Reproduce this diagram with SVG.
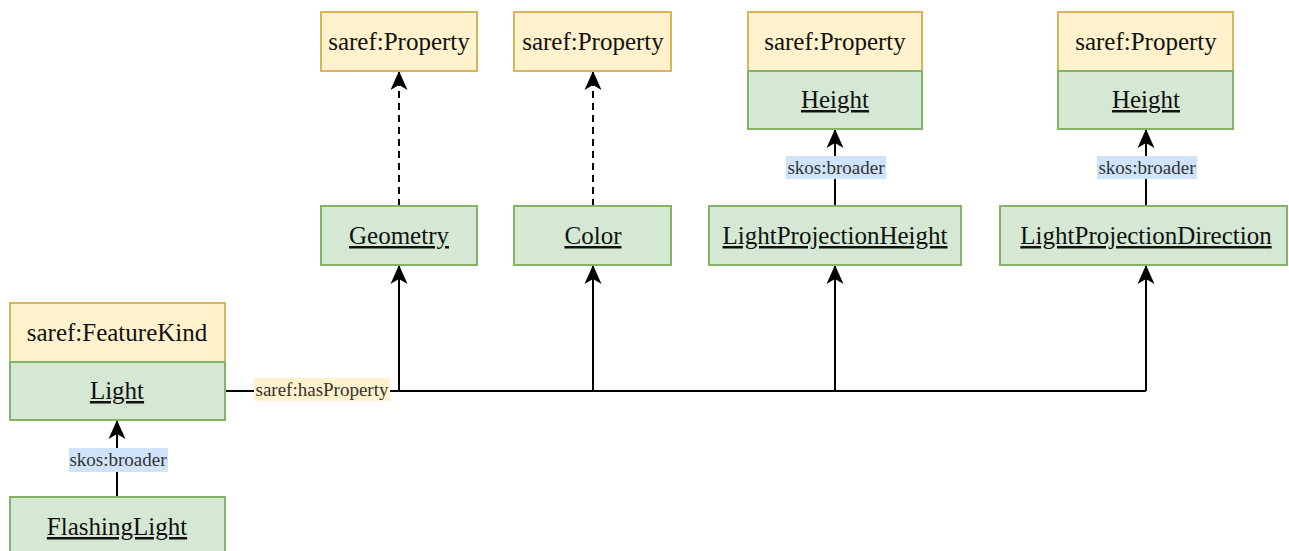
<svg xmlns="http://www.w3.org/2000/svg" width="1289" height="551" viewBox="0 0 1289 551">
  <style>
    .kind { fill: #fff2cc; stroke: #d6b656; stroke-width: 2; }
    .inst { fill: #d5e8d4; stroke: #82b366; stroke-width: 2; }
    .t { font-family: "Liberation Serif", "Times New Roman", serif; font-size: 25px; fill: #111; text-anchor: middle; }
    .u { text-decoration: underline; }
    .edge { fill: none; stroke: #000; stroke-width: 2; }
    .dash { stroke-dasharray: 7 5; }
    .lbl { font-family: "Liberation Serif", "Times New Roman", serif; font-size: 19px; fill: #333; text-anchor: middle; }
    .bgBlue { fill: #cfe4fb; }
    .bgYellow { fill: #fff2cc; }
  </style>
  <defs>
    <marker id="arrow" markerUnits="userSpaceOnUse" markerWidth="19" markerHeight="18" viewBox="0 0 19 18" refX="18" refY="9" orient="auto">
      <path d="M0,0.5 L19,9 L0,17.5 L5,9 Z" fill="#000"/>
    </marker>
  </defs>
  <rect width="1289" height="551" fill="#fff"/>

  <!-- connectors -->
  <g id="connectors">
    <!-- hasProperty trunk and branches -->
    <path class="edge" d="M225,391 H254"/>
    <path class="edge" d="M390,391 H1146"/>
    <path class="edge" d="M399,391 V266" marker-end="url(#arrow)"/>
    <path class="edge" d="M593,391 V266" marker-end="url(#arrow)"/>
    <path class="edge" d="M835,391 V266" marker-end="url(#arrow)"/>
    <path class="edge" d="M1146,391 V266" marker-end="url(#arrow)"/>
    <rect class="bgYellow" x="254" y="378" width="136" height="23"/>
    <text class="lbl" x="322" y="396">saref:hasProperty</text>

    <!-- type links -->
    <path class="edge dash" d="M399,206 V72" marker-end="url(#arrow)"/>
    <path class="edge dash" d="M593,206 V72" marker-end="url(#arrow)"/>

    <!-- skos:broader links -->
    <path class="edge" d="M835,206 V130" marker-end="url(#arrow)"/>
    <rect class="bgBlue" x="786" y="156" width="100" height="23"/>
    <text class="lbl" x="836" y="174">skos:broader</text>

    <path class="edge" d="M1146,206 V130" marker-end="url(#arrow)"/>
    <rect class="bgBlue" x="1097" y="156" width="100" height="23"/>
    <text class="lbl" x="1147" y="174">skos:broader</text>

    <path class="edge" d="M117,497 V421" marker-end="url(#arrow)"/>
    <rect class="bgBlue" x="69" y="448" width="99" height="24"/>
    <text class="lbl" x="118" y="466">skos:broader</text>
  </g>

  <!-- nodes -->
  <g id="prop-geometry">
    <rect class="kind" x="321" y="12" width="156" height="59"/>
    <text class="t" x="399" y="50">saref:Property</text>
  </g>
  <g id="prop-color">
    <rect class="kind" x="514" y="12" width="157" height="59"/>
    <text class="t" x="593" y="50">saref:Property</text>
  </g>
  <g id="height-1">
    <rect class="kind" x="748" y="12" width="174" height="59"/>
    <text class="t" x="835" y="50">saref:Property</text>
    <rect class="inst" x="748" y="71" width="174" height="58"/>
    <text class="t u" x="835" y="108">Height</text>
  </g>
  <g id="height-2">
    <rect class="kind" x="1058" y="12" width="175" height="59"/>
    <text class="t" x="1146" y="50">saref:Property</text>
    <rect class="inst" x="1058" y="71" width="175" height="58"/>
    <text class="t u" x="1146" y="108">Height</text>
  </g>
  <g id="geometry">
    <rect class="inst" x="321" y="206" width="156" height="59"/>
    <text class="t u" x="399" y="244">Geometry</text>
  </g>
  <g id="color">
    <rect class="inst" x="514" y="206" width="157" height="59"/>
    <text class="t u" x="593" y="244">Color</text>
  </g>
  <g id="light-projection-height">
    <rect class="inst" x="709" y="206" width="252" height="59"/>
    <text class="t u" x="835" y="244">LightProjectionHeight</text>
  </g>
  <g id="light-projection-direction">
    <rect class="inst" x="1000" y="206" width="287" height="59"/>
    <text class="t u" x="1146" y="244">LightProjectionDirection</text>
  </g>
  <g id="light">
    <rect class="kind" x="10" y="303" width="215" height="59"/>
    <text class="t" x="117" y="341">saref:FeatureKind</text>
    <rect class="inst" x="10" y="362" width="215" height="58"/>
    <text class="t u" x="117" y="399">Light</text>
  </g>
  <g id="flashing-light">
    <rect class="inst" x="10" y="497" width="215" height="62"/>
    <text class="t u" x="117" y="535">FlashingLight</text>
  </g>
</svg>
